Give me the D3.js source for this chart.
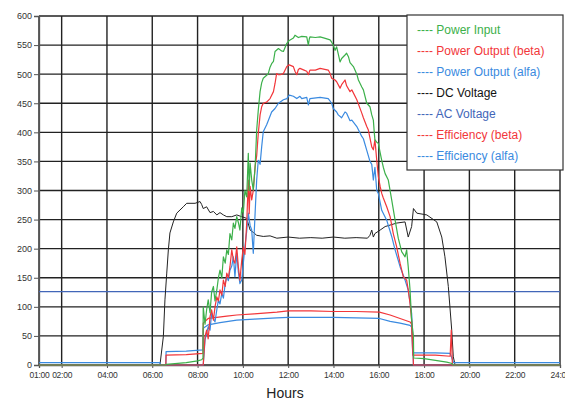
<!DOCTYPE html>
<html>
<head>
<meta charset="utf-8">
<script src="https://cdn.jsdelivr.net/npm/d3@7"></script>
<style>
  body { margin: 0; background: #fff; }
  .tick text { font-family: "Liberation Sans", Arial, sans-serif; }
</style>
</head>
<body>
<div id="chart"></div>
<script>
// hours on the x axis, values on the y axis
const hourTicks = [1, 2, 4, 6, 8, 10, 12, 14, 16, 18, 20, 22, 24];
const valueTicks = [0, 50, 100, 150, 200, 250, 300, 350, 400, 450, 500, 550, 600];

const powerInput = [
  [1,0],[6.6,0],[6.62,1],[7.5,4],[8.0,7],[8.18,9],[8.24,12],[8.25,100],[8.33,70],[8.40,95],[8.47,112],
  [8.55,90],[8.62,125],[8.70,135],[8.77,110],[8.85,129],[8.92,150],[8.99,163],[9.07,150],[9.14,186],
  [9.22,175],[9.29,198],[9.36,190],[9.43,226],[9.51,215],[9.58,244],[9.65,235],[9.73,255],[9.80,245],
  [9.87,232],[9.95,270],[10.02,261],[10.09,300],[10.17,289],[10.24,364],[10.28,300],[10.32,347],
  [10.39,318],[10.46,301],[10.54,340],[10.61,404],[10.68,438],[10.76,470],[10.83,485],[10.90,493],
  [11.05,498],[11.12,501],[11.20,512],[11.27,518],[11.35,522],[11.42,539],[11.57,544],[11.70,540],
  [11.79,539],[11.94,553],[12.05,558],[12.23,562],[12.30,567],[12.45,563],[12.60,565],[12.82,564],
  [12.86,556],[12.89,550],[12.93,560],[12.96,564],[13.2,563],[13.41,564],[13.6,562],[13.85,559],
  [13.92,555],[13.99,550],[14.07,541],[14.14,547],[14.21,535],[14.29,521],[14.36,527],[14.51,533],
  [14.58,536],[14.66,530],[14.73,520],[14.88,513],[15.03,500],[15.10,490],[15.25,478],[15.32,473],
  [15.47,450],[15.61,444],[15.69,430],[15.76,421],[15.80,400],[15.83,387],[15.91,383],[15.98,381],
  [16.06,365],[16.13,352],[16.20,340],[16.28,329],[16.42,318],[16.57,284],[16.72,249],[16.86,218],
  [17.01,195],[17.16,186],[17.23,198],[17.30,169],[17.38,129],[17.45,77],[17.53,49],[17.54,12],
  [18.0,11],[18.5,8],[19.0,5],[19.2,3],[19.3,0],[24,0]
];

const powerOutBeta = [
  [1,0],[8.25,0],[8.33,49],[8.40,60],[8.47,45],[8.55,83],[8.62,95],[8.70,77],[8.77,100],[8.85,117],
  [8.92,110],[8.99,129],[9.07,120],[9.14,146],[9.22,135],[9.29,158],[9.36,150],[9.43,169],[9.51,198],
  [9.58,181],[9.65,175],[9.73,203],[9.80,169],[9.87,146],[9.95,180],[10.02,203],[10.09,190],
  [10.17,244],[10.24,318],[10.28,260],[10.32,307],[10.39,284],[10.46,300],[10.54,341],[10.61,360],
  [10.68,398],[10.76,430],[10.83,444],[10.90,450],[11.05,452],[11.20,458],[11.35,470],[11.42,484],
  [11.49,501],[11.57,499],[11.64,499],[11.79,501],[11.94,513],[12.05,516],[12.23,513],[12.30,505],
  [12.38,499],[12.45,508],[12.52,510],[12.7,507],[12.82,505],[12.89,499],[12.96,507],[13.2,507],
  [13.41,510],[13.77,507],[13.85,501],[13.92,493],[14.07,490],[14.14,487],[14.29,476],[14.36,482],
  [14.51,490],[14.58,480],[14.73,470],[14.81,473],[15.03,456],[15.25,433],[15.32,425],[15.47,410],
  [15.54,404],[15.69,375],[15.76,370],[15.83,387],[15.91,352],[15.98,324],[16.06,307],[16.13,295],
  [16.20,287],[16.35,272],[16.50,255],[16.64,226],[16.79,203],[16.94,175],[17.08,152],[17.23,146],
  [17.30,129],[17.38,106],[17.45,77],[17.50,40],[17.53,0],[24,0]
];

const powerOutAlfa = [
  [1,0],[8.25,0],[8.33,43],[8.40,55],[8.47,66],[8.55,60],[8.62,89],[8.70,80],[8.77,74],[8.85,95],
  [8.92,112],[8.99,105],[9.07,123],[9.14,115],[9.22,140],[9.29,152],[9.36,145],[9.43,163],[9.51,170],
  [9.58,186],[9.65,152],[9.73,192],[9.80,160],[9.87,140],[9.95,146],[10.02,175],[10.09,203],
  [10.17,230],[10.24,261],[10.32,240],[10.39,232],[10.46,192],[10.54,261],[10.61,318],[10.68,352],
  [10.76,345],[10.83,375],[10.90,401],[11.05,413],[11.12,420],[11.27,435],[11.42,441],[11.57,450],
  [11.79,456],[11.94,458],[12.05,464],[12.23,462],[12.38,458],[12.52,462],[12.60,458],[12.82,460],
  [12.89,447],[12.96,458],[13.41,460],[13.77,458],[13.92,450],[13.99,441],[14.14,435],[14.21,430],
  [14.36,425],[14.51,435],[14.58,433],[14.73,420],[14.81,421],[15.03,410],[15.25,393],[15.32,389],
  [15.47,369],[15.61,350],[15.69,345],[15.76,318],[15.83,340],[15.91,300],[15.98,295],[16.13,266],
  [16.35,249],[16.57,221],[16.72,198],[16.94,169],[17.16,146],[17.30,129],[17.45,89],[17.50,50],
  [17.53,0],[24,0]
];

const dcVoltage = [
  [1,0],[6.34,0],[6.49,49],[6.56,112],[6.64,158],[6.71,198],[6.78,227],[6.93,246],[7.08,261],
  [7.37,272],[7.52,278],[7.89,278],[8.11,281],[8.18,276],[8.25,269],[8.40,272],[8.55,262],[8.70,264],
  [8.85,258],[8.99,262],[9.14,258],[9.29,255],[9.51,255],[9.73,258],[9.95,255],[10.17,252],
  [10.32,232],[10.46,228],[10.61,223],[10.9,221],[11.2,222],[11.5,218],[12,220],[12.5,218],[13,219],
  [13.5,218],[14,220],[14.5,218],[15,219],[15.5,218],[15.61,223],[15.69,232],[15.76,220],[15.83,226],
  [16.06,232],[16.28,238],[16.79,244],[17.16,246],[17.30,220],[17.45,238],[17.53,269],[17.68,261],
  [18.12,258],[18.56,246],[18.78,220],[18.92,186],[19.07,135],[19.22,60],[19.29,14],[19.37,0],[24,0]
];

const acVoltage = [[1,126],[24,126]];

const effBeta = [
  [1,0],[6.6,0],[6.61,17],[7.5,18],[8.24,20],[8.25,72],[8.47,80],[8.85,82],[9.29,84],[9.73,86],
  [10.5,88],[11.5,91],[12.0,93],[13.0,93],[14.0,92],[15.0,92],[16.03,91],[16.5,86],[16.94,80],
  [17.38,74],[17.45,70],[17.50,17],[18.5,17],[19.15,15],[19.2,60],[19.25,0],[24,0]
];

const effAlfa = [
  [1,4],[6.34,4],[6.36,0],[6.6,0],[6.61,23],[7.5,24],[8.24,26],[8.25,63],[8.47,69],[8.99,73],
  [9.73,77],[10.5,79],[11.5,81],[12.0,82],[13.0,82],[14.0,82],[15.0,81],[16.03,80],[16.5,75],
  [16.94,72],[17.38,68],[17.45,65],[17.50,21],[18.5,21],[19.15,20],[19.3,4],[24,4]
];

const seriesNames = ["Power Input", "Power Output (beta)", "Power Output (alfa)", "DC Voltage",
                     "AC Voltage", "Efficiency (beta)", "Efficiency (alfa)"];
const seriesData = [powerInput, powerOutBeta, powerOutAlfa, dcVoltage, acVoltage, effBeta, effAlfa];
const seriesColors = ["#3cb04a", "#f2363a", "#3a8ae0", "#222222", "#4266b8", "#f2363a", "#3a8ae0"];
const drawOrder = [4, 3, 6, 5, 2, 1, 0];

const width = 565, height = 402,
      margin = { top: 16, right: 5, bottom: 37, left: 39 };

const svg = d3.select("#chart").append("svg")
    .attr("width", width)
    .attr("height", height);

const x = d3.scaleLinear().domain([1, 24]).range([margin.left, width - margin.right]);
const y = d3.scaleLinear().domain([0, 600]).range([height - margin.bottom, margin.top]);

// grid
svg.append("g")
  .selectAll("line.h")
  .data(valueTicks)
  .enter().append("line")
    .attr("x1", x(1)).attr("x2", x(24))
    .attr("y1", d => y(d)).attr("y2", d => y(d))
    .attr("stroke", "#222").attr("stroke-width", 1.4);

svg.append("g")
  .selectAll("line.v")
  .data(hourTicks)
  .enter().append("line")
    .attr("x1", d => x(d)).attr("x2", d => x(d))
    .attr("y1", y(0)).attr("y2", y(600))
    .attr("stroke", "#222").attr("stroke-width", 1.4);

// axes
const yAxis = svg.append("g")
    .attr("transform", "translate(" + margin.left + ",0)")
    .call(d3.axisLeft(y).tickValues(valueTicks).tickSize(5).tickPadding(2));
const xAxis = svg.append("g")
    .attr("transform", "translate(0," + y(0) + ")")
    .call(d3.axisBottom(x).tickValues(hourTicks).tickSize(3).tickPadding(4)
      .tickFormat(d => d3.format("02d")(d) + ":00"));

[yAxis, xAxis].forEach(a => {
  a.select(".domain").attr("stroke", "#555").attr("stroke-width", 1.3);
  a.selectAll(".tick line").attr("stroke", "#555");
  a.selectAll(".tick text").attr("fill", "#333").style("font-size", "9px");
});
xAxis.selectAll(".tick text")
  .style("font-size", "8.5px")
  .style("letter-spacing", "-0.25px");

// lines
const line = d3.line().x(d => x(d[0])).y(d => y(d[1]));

svg.append("g")
  .selectAll("path")
  .data(drawOrder)
  .enter().append("path")
    .attr("d", i => line(seriesData[i]))
    .attr("fill", "none")
    .attr("stroke", i => seriesColors[i])
    .attr("stroke-width", i => i === 3 ? 1 : 1.2)
    .attr("stroke-linejoin", "round");

// axis title
svg.append("text")
  .attr("x", 285).attr("y", 398)
  .attr("text-anchor", "middle")
  .style("font-family", "'Liberation Sans', Arial, sans-serif")
  .style("font-size", "14px")
  .attr("fill", "#222")
  .text("Hours");

// legend
const legend = svg.append("g").attr("transform", "translate(407,15)");
legend.append("rect")
  .attr("width", 156).attr("height", 155)
  .attr("fill", "#fff").attr("stroke", "#333").attr("stroke-width", 1.2);

legend.selectAll("text")
  .data(seriesNames)
  .enter().append("text")
    .attr("x", 10)
    .attr("y", (d, i) => 19 + i * 21)
    .style("font-family", "'Liberation Sans', Arial, sans-serif")
    .style("font-size", "12px")
    .attr("fill", (d, i) => i === 3 ? "#111" : seriesColors[i])
    .text(d => "---- " + d);
</script>
</body>
</html>
